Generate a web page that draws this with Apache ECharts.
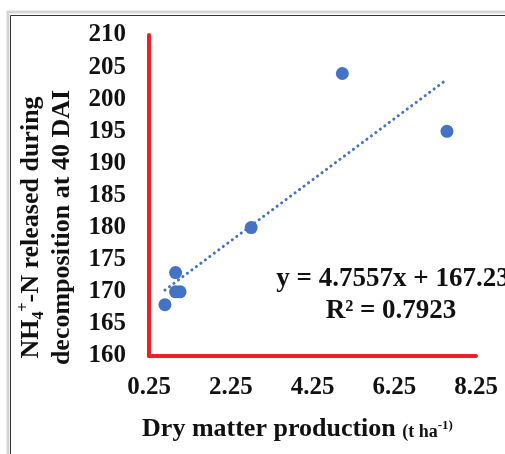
<!DOCTYPE html>
<html>
<head>
<meta charset="utf-8">
<script src="https://cdn.jsdelivr.net/npm/echarts@6/dist/echarts.min.js"></script>
<style>
html,body{margin:0;padding:0;background:#fff;}
#chart{width:505px;height:454px;}
</style>
</head>
<body>
<div id="chart"></div>
<script>
// Data
const dryMatter = [0.64, 0.90, 0.90, 1.01, 2.75, 4.98, 7.54];
const nh4Released = [168, 173, 170, 170, 180, 204, 195];
const xTicks = [0.25, 2.25, 4.25, 6.25, 8.25];
const yTicks = [160, 165, 170, 175, 180, 185, 190, 195, 200, 205, 210];
const trendSlope = 4.7557;
const trendIntercept = 167.23;
const rSquared = 0.7923;

const points = dryMatter.map((x, i) => [x, nh4Released[i]]);
const xMin = Math.min(...dryMatter), xMax = Math.max(...dryMatter);
const trend = [xMin, xMax].map(x => [x, trendSlope * x + trendIntercept]);

const serif = '"Liberation Serif", "Times New Roman", serif';
const red = '#ee1f26';
const blue = '#4472c4';

const chart = echarts.init(document.getElementById('chart'), null, {renderer: 'canvas'});
chart.setOption({
  backgroundColor: '#fff',
  animation: false,
  grid: {left: 149, right: 29, top: 35, bottom: 98, containLabel: false},
  xAxis: {
    type: 'value',
    min: xTicks[0], max: xTicks[xTicks.length - 1],
    axisLine: {show: true, onZero: false, lineStyle: {color: red, width: 4}},
    axisTick: {show: false},
    splitLine: {show: false},
    axisLabel: {
      customValues: xTicks,
      margin: 19,
      formatter: v => v.toFixed(2),
      fontFamily: serif, fontWeight: 'bold', fontSize: 25, color: '#111'
    },
    name: '{b|Dry matter production }{s|(t ha}{sup|-1)}',
    nameLocation: 'middle',
    nameGap: 59,
    nameTextStyle: {
      padding: [0, 30, 0, 0],
      rich: {
        b: {fontFamily: serif, fontWeight: 'bold', fontSize: 26, color: '#111', lineHeight: 28},
        s: {fontFamily: serif, fontWeight: 'bold', fontSize: 18, color: '#111', lineHeight: 28, verticalAlign: 'bottom', padding: [0,0,2,0]},
        sup: {fontFamily: serif, fontWeight: 'bold', fontSize: 13, color: '#111', lineHeight: 28, verticalAlign: 'top', padding: [4,0,0,0]}
      }
    }
  },
  yAxis: {
    type: 'value',
    min: yTicks[0], max: yTicks[yTicks.length - 1], interval: 5,
    axisLine: {show: true, onZero: false, lineStyle: {color: red, width: 4}},
    axisTick: {show: false},
    splitLine: {show: false},
    axisLabel: {
      margin: 23,
      fontFamily: serif, fontWeight: 'bold', fontSize: 25, color: '#111'
    },
    name: '{b|NH}{sub|4}{sup|+}{b|-N released during}\n{b|decomposition at 40 DAI}',
    nameLocation: 'middle',
    nameRotate: 90,
    nameGap: 71,
    nameTextStyle: {
      align: 'center',
      padding: [0, 64, 0, 0],
      rich: {
        b: {fontFamily: serif, fontWeight: 'bold', fontSize: 26, color: '#111', lineHeight: 31},
        sub: {fontFamily: serif, fontWeight: 'bold', fontSize: 16, color: '#111', lineHeight: 31, verticalAlign: 'bottom'},
        sup: {fontFamily: serif, fontWeight: 'bold', fontSize: 16, color: '#111', lineHeight: 31, verticalAlign: 'top'}
      }
    }
  },
  series: [
    {
      type: 'scatter',
      data: points,
      symbol: 'circle',
      symbolSize: 13,
      itemStyle: {color: blue, opacity: 1},
      z: 2
    },
    {
      type: 'line',
      data: trend,
      symbol: 'none',
      lineStyle: {color: blue, width: 3, type: [0.1, 5.5], cap: 'round'},
      z: 3
    }
  ],
  graphic: [
    {type: 'rect', shape: {x: 8, y: 12, width: 510, height: 460}, style: {fill: 'none', stroke: '#d6d6d6', lineWidth: 3}, z: -1, silent: true},
    {type: 'rect', shape: {x: 10.5, y: 15.5, width: 510, height: 460}, style: {fill: 'none', stroke: '#333', lineWidth: 1}, z: 0, silent: true},
    {type: 'text', x: 393, y: 279, style: {text: 'y = ' + trendSlope + 'x + ' + trendIntercept, fontFamily: serif, fontWeight: 'bold', fontSize: 27, fill: '#111', align: 'center', verticalAlign: 'middle'}},
    {type: 'text', x: 391, y: 311, style: {text: 'R² = ' + rSquared, fontFamily: serif, fontWeight: 'bold', fontSize: 27, fill: '#111', align: 'center', verticalAlign: 'middle'}}
  ]
});
</script>
</body>
</html>
